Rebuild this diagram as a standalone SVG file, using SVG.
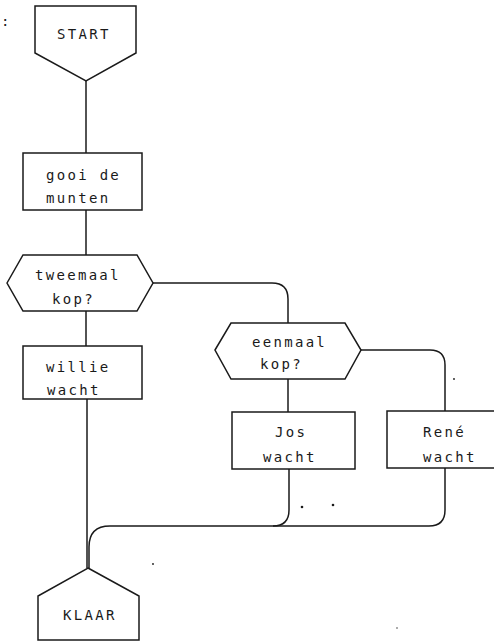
<svg xmlns="http://www.w3.org/2000/svg" width="494" height="642" viewBox="0 0 494 642">
<style>
.shape{fill:#fff;stroke:#1a1a1a;stroke-width:1.5;stroke-linejoin:miter}
.conn{fill:none;stroke:#1a1a1a;stroke-width:1.5}
text{font-family:"DejaVu Sans Mono","Liberation Mono",monospace;font-size:14px;fill:#1a1a1a;letter-spacing:2.3px}
.speck{fill:#1a1a1a}
</style>
<rect width="494" height="642" fill="#fff"/>
<text x="1" y="26">:</text>
<g id="connectors">
<path class="conn" d="M86,81 V153"/>
<path class="conn" d="M86,210 V255"/>
<path class="conn" d="M86,311 V346"/>
<path class="conn" d="M87,399 V568"/>
<path class="conn" d="M153,283 H272 Q288,283 288,299 V323"/>
<path class="conn" d="M288,379 V412"/>
<path class="conn" d="M361,350 H430 Q445,350 445,365 V411"/>
<path class="conn" d="M289,469 V510 Q289,526 273,526"/>
<path class="conn" d="M445,468 V510 Q445,526 429,526 H110 Q89,526 89,547 V568"/>
</g>
<g id="start">
<polygon class="shape" points="35,6 136,6 136,53 86,81 35,53"/>
<text x="57" y="39">START</text>
</g>
<g id="gooi">
<rect class="shape" x="23" y="153" width="119" height="57"/>
<text x="46" y="180">gooi de</text>
<text x="46" y="203">munten</text>
</g>
<g id="tweemaal">
<polygon class="shape" points="7,283 23,255 137,255 153,283 137,311 23,311"/>
<text x="35" y="280">tweemaal</text>
<text x="52" y="304">kop?</text>
</g>
<g id="willie">
<rect class="shape" x="23" y="346" width="119" height="53"/>
<text x="46" y="372">willie</text>
<text x="47" y="395">wacht</text>
</g>
<g id="eenmaal">
<polygon class="shape" points="215,350 231,323 345,323 361,350 345,379 231,379"/>
<text x="252" y="347">eenmaal</text>
<text x="260" y="369">kop?</text>
</g>
<g id="jos">
<rect class="shape" x="232" y="412" width="123" height="57"/>
<text x="275" y="437">Jos</text>
<text x="263" y="462">wacht</text>
</g>
<g id="rene">
<rect class="shape" x="387" y="411" width="120" height="57"/>
<text x="423" y="437">René</text>
<text x="423" y="462">wacht</text>
</g>
<g id="klaar">
<polygon class="shape" points="88,568 139,596 139,640 38,640 38,596"/>
<text x="63" y="620">KLAAR</text>
</g>
<g id="specks">
<circle class="speck" cx="302" cy="507" r="1.3"/>
<circle class="speck" cx="333" cy="505" r="1.3"/>
<circle class="speck" cx="454" cy="379" r="0.9"/>
<circle class="speck" cx="153" cy="564" r="0.9"/>
<circle class="speck" cx="397" cy="628" r="0.7"/>
</g>
</svg>
